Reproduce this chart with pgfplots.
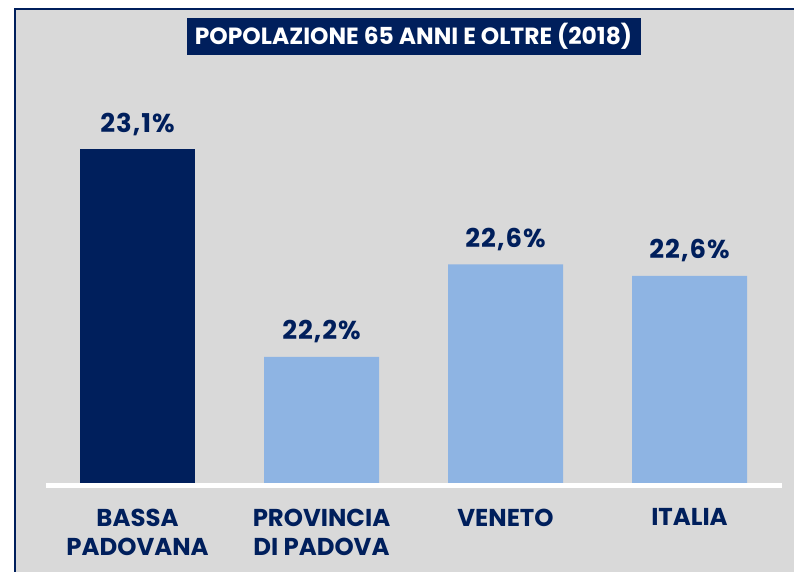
\documentclass[border=0pt]{standalone}
\usepackage{pgfplots}
\pgfplotsset{compat=1.18}
\usepackage{fontspec}
\setmainfont{Poppins}
\definecolor{navy}{HTML}{001F5C}
\definecolor{lightbar}{HTML}{8EB4E3}
\definecolor{panel}{HTML}{D9D9D9}
\begin{document}
\begin{tikzpicture}
\path[use as bounding box] (0,0) rectangle (794bp,572bp);
\fill[white] (0,0) rectangle (794bp,572bp);
\fill[panel] (14bp,0) rectangle (794bp,564bp);
\draw[navy, line width=2bp] (15bp,0) -- (15bp,563bp) -- (794bp,563bp);
\begin{axis}[
 name=ax, at={(45.5bp,89bp)}, anchor=south west,
 x=184bp, y=230.8bp, xmin=-0.5, xmax=3.5, ymin=21.653, ymax=23.6,
 axis line style={draw=none}, major tick length=0pt, ytick=\empty,
 xtick={0,1,2,3},
 xticklabels={{BASSA\\PADOVANA},{PROVINCIA\\DI PADOVA},{VENETO},{ITALIA}},
 xticklabel style={align=center, anchor=north, inner sep=0pt, yshift=-25.5bp,
   font=\fontsize{24.5}{29.3}\selectfont\bfseries, text=navy},
 ybar, bar width=115bp,
 nodes near coords={\pgfplotspointmeta\%},
 point meta=explicit symbolic,
 every node near coord/.append style={anchor=base, yshift=17bp, inner sep=0pt,
   font=\fontsize{26}{30}\selectfont\bfseries\addfontfeatures{LetterSpace=4}, text=navy},
 title={POPOLAZIONE 65 ANNI E OLTRE (2018)},
 title style={at={(0.5,0.9803)}, anchor=center, fill=navy, text=white,
   minimum width=454bp, minimum height=37bp, inner sep=0pt,
   font=\fontsize{23.5}{26}\selectfont\bfseries},
]
\addplot[fill=navy, draw=none, bar shift=0pt] table[meta=lab] {
x y lab
0 23.1 23,1
};
\addplot[fill=lightbar, draw=none, bar shift=0pt] table[meta=lab] {
x y lab
1 22.2 22,2
2 22.6 22,6
3 22.55 22,6
};
\end{axis}
\draw[white, line width=5bp] ([yshift=-2.5bp]ax.south west) -- ([yshift=-2.5bp]ax.south east);
\end{tikzpicture}
\end{document}
